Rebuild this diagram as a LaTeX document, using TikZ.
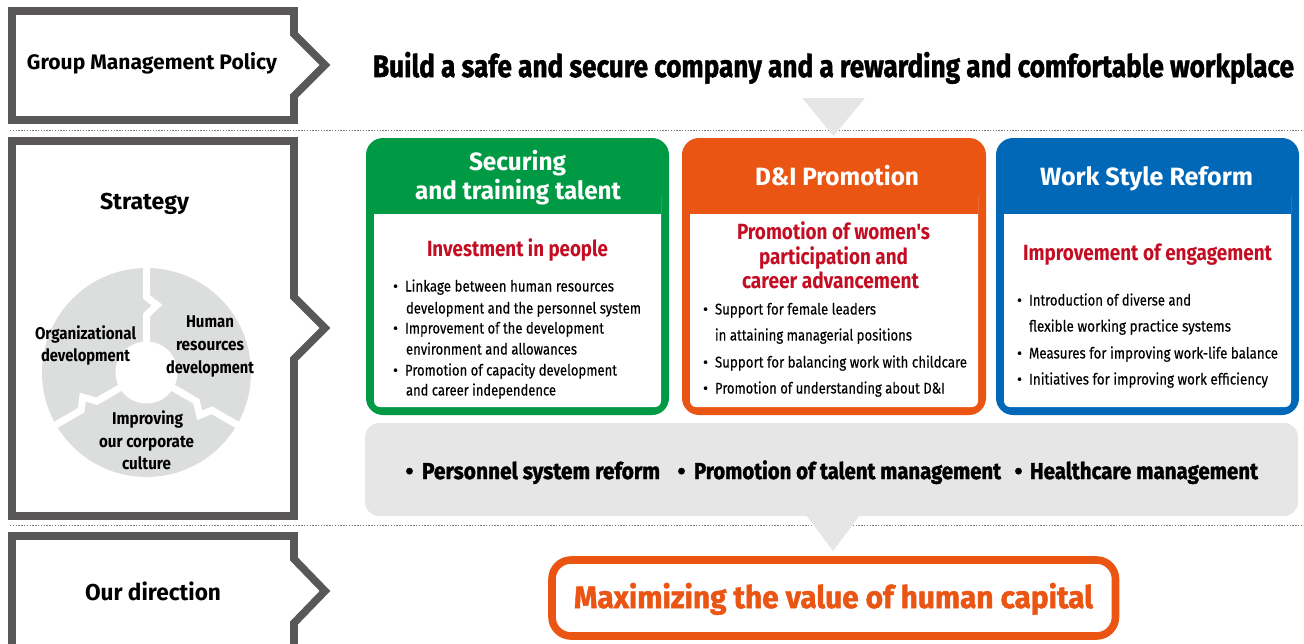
\documentclass[tikz,border=0pt]{standalone}
\usepackage{fontspec}
\usepackage{graphicx}
\setmainfont{Fira Sans}
\newfontfamily\heavyfont[FakeBold=1.6]{Fira Sans Bold}
\newfontfamily\midfont[FakeBold=0.25]{Fira Sans}
\newfontfamily\subfont{Fira Sans Bold}
\definecolor{frameg}{HTML}{595757}
\definecolor{dotg}{HTML}{7A7878}
\definecolor{lightg}{HTML}{E6E6E6}
\definecolor{wheelg}{HTML}{DCDDDD}
\definecolor{cgreen}{HTML}{009944}
\definecolor{corange}{HTML}{EA5514}
\definecolor{cblue}{HTML}{0068B7}
\definecolor{cred}{HTML}{C30D23}
\tikzset{
  framebox/.style={draw=frameg,line width=7.6pt,miter limit=10,fill=white},
  txt/.style={anchor=base west,inner sep=0pt,outer sep=0pt},
  bt/.style={txt,font=\bfseries,text=black},
  s15/.style={txt,font=\midfont\fontsize{15.5}{18}\selectfont,text=black},
  s17/.style={bt,font=\bfseries\fontsize{17}{20}\selectfont},
  s23/.style={bt,font=\bfseries\fontsize{23}{26}\selectfont},
  s23h/.style={txt,text=black,font=\heavyfont\fontsize{23}{26}\selectfont},
  s31h/.style={txt,text=black,font=\heavyfont\fontsize{31}{34}\selectfont},
  s21/.style={bt,font=\bfseries\fontsize{21}{24}\selectfont},
  head/.style={txt,font=\bfseries\fontsize{25}{28}\selectfont,text=white},
  sub/.style={txt,font=\subfont\fontsize{22}{26}\selectfont,text=cred},
  dotline/.style={draw=dotg,line width=1.6pt,dash pattern=on 1.4pt off 1.4pt},
  gaps/.style={draw=white,line width=7pt,line join=miter},
}
\newcommand\tx[6][]{\node[#2,#1] (#3) at #4 {\resizebox{#5pt}{\height}{#6}};}
\newcommand\card[4]{%
  \fill[#1,rounded corners=17pt] (#2,138) rectangle (#3,415);
  \fill[white,rounded corners=6pt] ({#2+8},190) rectangle ({#3-8},407);
  \fill[#1] (#2+8,180) rectangle (#3-8,214);
}
\begin{document}
\begin{tikzpicture}[x=1pt,y=-1pt]
\useasboundingbox (0,0) rectangle (1304,643);
% dotted rules
\draw[dotline] (10,130.5) -- (1304,130.5);
\draw[dotline] (10,525.5) -- (1304,525.5);
% chevron frames
\draw[framebox] (12,11) -- (294,11) -- (294,34) -- (325,65) -- (294,96) -- (294,120) -- (12,120) -- cycle;
\draw[framebox] (12,141) -- (294,141) -- (294,297) -- (325,328) -- (294,359) -- (294,516) -- (12,516) -- cycle;
\draw[framebox] (12,660) -- (12,536) -- (294,536) -- (294,559) -- (325,591) -- (294,623) -- (294,660);
% triangles
\fill[lightg] (802,98) -- (865,98) -- (833.5,136) -- cycle;
% cards
\card{cgreen}{366}{669}{}
\card{corange}{682}{986}{}
\card{cblue}{996}{1299}{}
% grey bar
\fill[lightg,rounded corners=14pt] (365,423) rectangle (1298,516);
\fill[lightg] (806,515) -- (860,515) -- (833,551) -- cycle;
% result box
\draw[draw=corange,line width=7.6pt,rounded corners=19pt,fill=white] (552,560) rectangle (1115.5,636);
% wheel
\fill[wheelg] (146.5,372.5) circle[radius=104.5];
\foreach \a in {0,120,240}{
  \begin{scope}[rotate around={\a:(146.5,372.5)}]
    \draw[gaps] (146.5,262) -- (146.5,297) -- (157,305) -- (146.5,315) -- (146.5,345);
  \end{scope}
}
\fill[white] (146.5,372.5) circle[radius=31];
% labels
\tx{s21}{t1}{(27,69.5)}{250}{Group Management Policy}
\tx{s31h}{t2}{(373,77)}{921}{Build a safe and secure company and a rewarding and comfortable workplace}
\tx{s23}{t3}{(100,209)}{89}{Strategy}
\tx{s23}{t4}{(85,600)}{136}{Our direction}
\tx{s17}{w1}{(35,339)}{101}{Organizational}
\tx{s17}{w2}{(41,361)}{89}{development}
\tx{s17}{w3}{(186,327)}{48}{Human}
\tx{s17}{w4}{(176,350)}{68}{resources}
\tx{s17}{w5}{(166,373)}{88}{development}
\tx{s17}{w6}{(112,424)}{71}{Improving}
\tx{s17}{w7}{(99,447)}{95}{our corporate}
\tx{s17}{w8}{(122,469)}{49}{culture}
\tx{head}{h1}{(469,170)}{97}{Securing}
\tx{head}{h2}{(415,199.5)}{206}{and training talent}
\tx{head}{h3}{(755,185)}{164}{D\&I Promotion}
\tx{head}{h4}{(1040,185)}{213}{Work Style Reform}
\tx{sub}{s1}{(427,256)}{181}{Investment in people}
\tx{sub}{s2}{(737,239)}{193}{Promotion of women's}
\tx{sub}{s3}{(759,264)}{149}{participation and}
\tx{sub}{s4}{(742,288.5)}{177}{career advancement}
\tx{sub}{s5}{(1023,260)}{249}{Improvement of engagement}
% green bullets
\node[s15] (g0) at (393,291.5) {•};
\node[s15] (g00) at (393,333.5) {•};
\node[s15] (g000) at (393,375.5) {•};
\tx{s15}{g1}{(405,291.5)}{209}{Linkage between human resources}
\tx{s15}{g2}{(406,313.5)}{235}{development and the personnel system}
\tx{s15}{g3}{(405,333.5)}{199}{Improvement of the development}
\tx{s15}{g4}{(406,354.5)}{171}{environment and allowances}
\tx{s15}{g5}{(405,375.5)}{212}{Promotion of capacity development}
\tx{s15}{g6}{(406,395.5)}{150}{and career independence}
% orange bullets
\node[s15] (o0) at (703,314.5) {•};
\node[s15] (o00) at (703,367.5) {•};
\node[s15] (o000) at (703,393.5) {•};
\tx{s15}{o1}{(715,314.5)}{161}{Support for female leaders}
\tx{s15}{o2}{(715,340.5)}{197}{in attaining managerial positions}
\tx{s15}{o3}{(715,367.5)}{252}{Support for balancing work with childcare}
\tx{s15}{o4}{(715,393.5)}{230}{Promotion of understanding about D\&I}
% blue bullets
\node[s15] (b0) at (1017,305.5) {•};
\node[s15] (b00) at (1017,358.5) {•};
\node[s15] (b000) at (1017,384.5) {•};
\tx{s15}{b1}{(1029,305.5)}{162}{Introduction of diverse and}
\tx{s15}{b2}{(1029,331.5)}{202}{flexible working practice systems}
\tx{s15}{b3}{(1029,358.5)}{249}{Measures for improving work-life balance}
\tx{s15}{b4}{(1029,384.5)}{239}{Initiatives for improving work efficiency}
% bar
\node[s23h] (r0) at (405.5,479) {•};
\tx{s23h}{r1}{(422,479)}{238}{Personnel system reform}
\node[s23h] (r00) at (677.5,479) {•};
\tx{s23h}{r2}{(694,479)}{307}{Promotion of talent management}
\node[s23h] (r000) at (1014.5,479) {•};
\tx{s23h}{r3}{(1030,479)}{228}{Healthcare management}
\tx[text=corange]{s31h}{m1}{(574,608)}{519}{Maximizing the value of human capital}
\end{tikzpicture}
\end{document}
